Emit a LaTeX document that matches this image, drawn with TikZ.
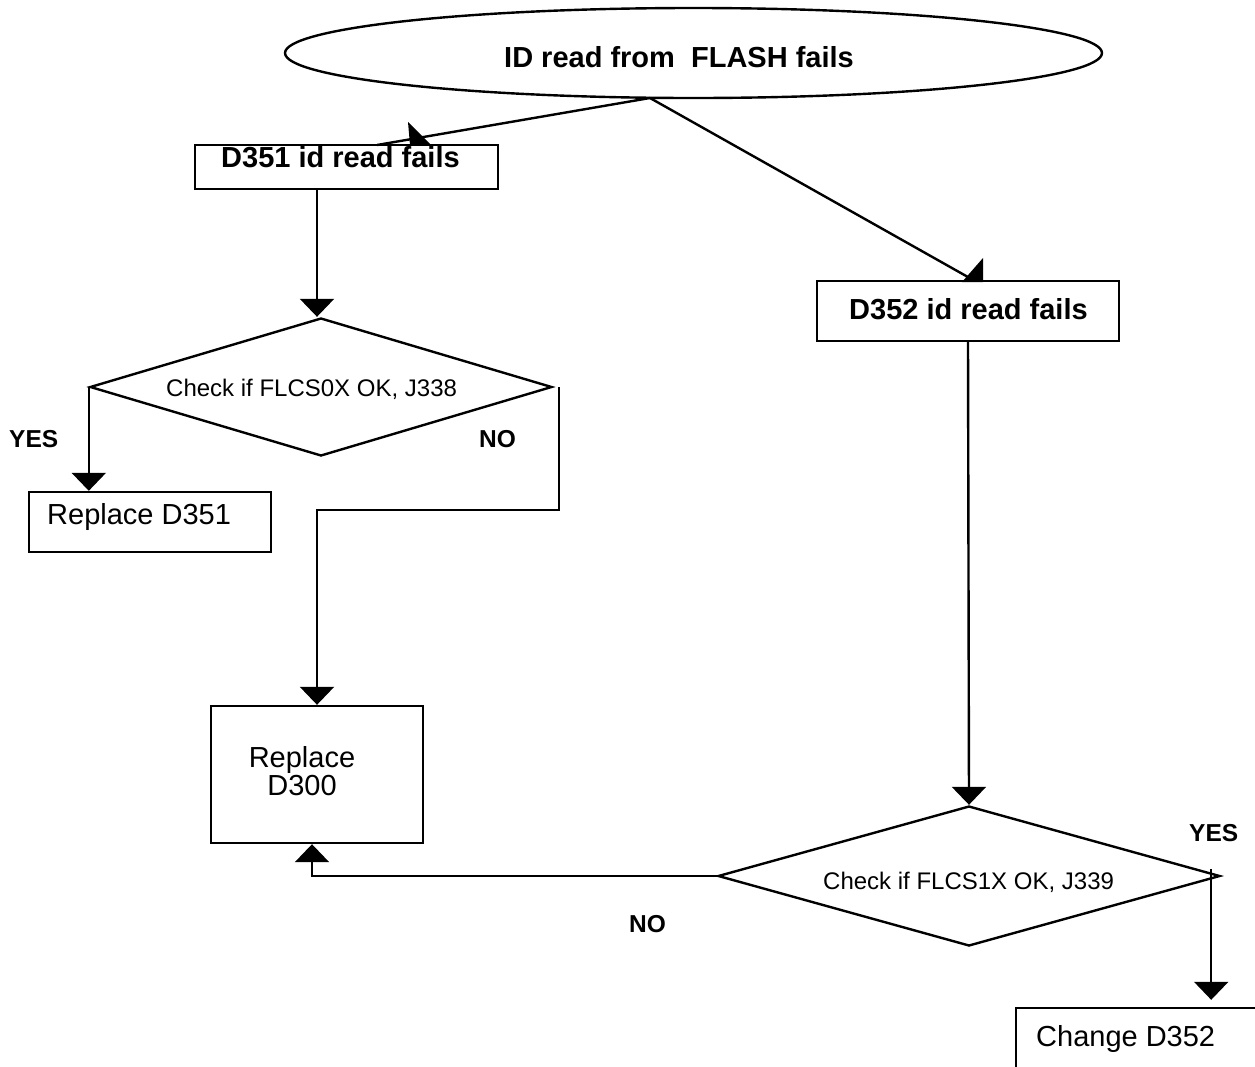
\documentclass[tikz,border=0pt]{standalone}
\usepackage{fontspec}
\setmainfont{Liberation Sans}
\usetikzlibrary{arrows.meta,shapes.geometric}

\begin{document}
\begin{tikzpicture}[x=1pt, y=-1pt, line width=2.4pt,
  box/.style={draw, rectangle, inner sep=0pt},
  oval/.style={draw, ellipse, inner sep=0pt},
  choice/.style={draw, diamond, inner sep=0pt},
  txt/.style={inner sep=0pt, anchor=base west},
  bigb/.style={font=\fontsize{29}{34}\selectfont\bfseries},
  bigr/.style={font=\fontsize{29}{34}\selectfont},
  small/.style={font=\fontsize{24}{28}\selectfont},
  tag/.style={font=\fontsize{24.5}{28}\selectfont\bfseries},
  arr/.style={-{Triangle[width=34pt,length=18pt]}}]

\useasboundingbox (0,0) rectangle (1255,1066);
\clip (0,0) rectangle (1255,1066);

% shapes
\node[oval, minimum width=817pt, minimum height=90pt] (start) at (693.5,53) {};
\node[box, minimum width=303pt, minimum height=44pt] (b351) at (346.5,167) {};
\node[box, minimum width=302pt, minimum height=60pt] (b352) at (968,311) {};
\node[choice, minimum width=462pt, minimum height=138pt] (d1) at (321,387) {};
\node[box, minimum width=242pt, minimum height=60pt] (r351) at (150,522) {};
\node[box, minimum width=212pt, minimum height=137pt] (r300) at (317,774.5) {};
\node[choice, minimum width=502pt, minimum height=140pt] (d2) at (969,876) {};
\node[box, minimum width=250pt, minimum height=80pt] (c352) at (1141,1048) {};

% texts
\node[txt, bigb] (tstart) at (503,67.3) {ID read from\ \ FLASH fails};
\node[txt, bigb] (t351) at (220,167.3) {D351 id read fails};
\node[txt, bigb] (t352) at (848,319) {D352 id read fails};
\node[txt, small] (td1) at (165,396) {Check if FLCS0X OK, J338};
\node[txt, small] (td2) at (822,889) {Check if FLCS1X OK, J339};
\node[txt, bigr] (tr351) at (46,524) {Replace D351};
\node[txt, bigr, anchor=base] (tr300a) at (302,767) {Replace};
\node[txt, bigr, anchor=base] (tr300b) at (302,795) {D300};
\node[txt, bigr] (tc352) at (1035,1046) {Change D352};
\node[txt, tag] (yes1) at (8,447) {YES};
\node[txt, tag] (no1) at (478,447) {NO};
\node[txt, tag] (no2) at (628,932) {NO};
\node[txt, tag] (yes2) at (1188,841) {YES};

% connectors from the top ellipse
\coordinate (fork) at (650,98);
\coordinate (in351) at (377,145);
\coordinate (in352) at (975,281);
\draw (fork) -- (in351);
\fill (408,122) -- (410,145) -- (431,145) -- cycle;
\draw (fork) -- (in352);
\fill (983,258) -- (983,282) -- (962,282) -- cycle;

% left branch
\draw[arr] ([xshift=-4pt]b351.south -| d1.north) -- ([xshift=-4pt]d1.north);
\draw[arr] (d1.west) -- (d1.west |- r351.north);
\draw[arr] ([xshift=6pt]d1.east) -- ++(0,123) -| (r300.north);

% right branch
\draw[arr] (b352.south) -- (d2.north);
\draw[arr] (d2.west) -| ([xshift=-5pt]r300.south);
\draw[arr] ([xshift=-10pt,yshift=7pt]d2.east) -- ([xshift=-10pt,yshift=7pt]d2.east |- c352.north);

\end{tikzpicture}
\end{document}
